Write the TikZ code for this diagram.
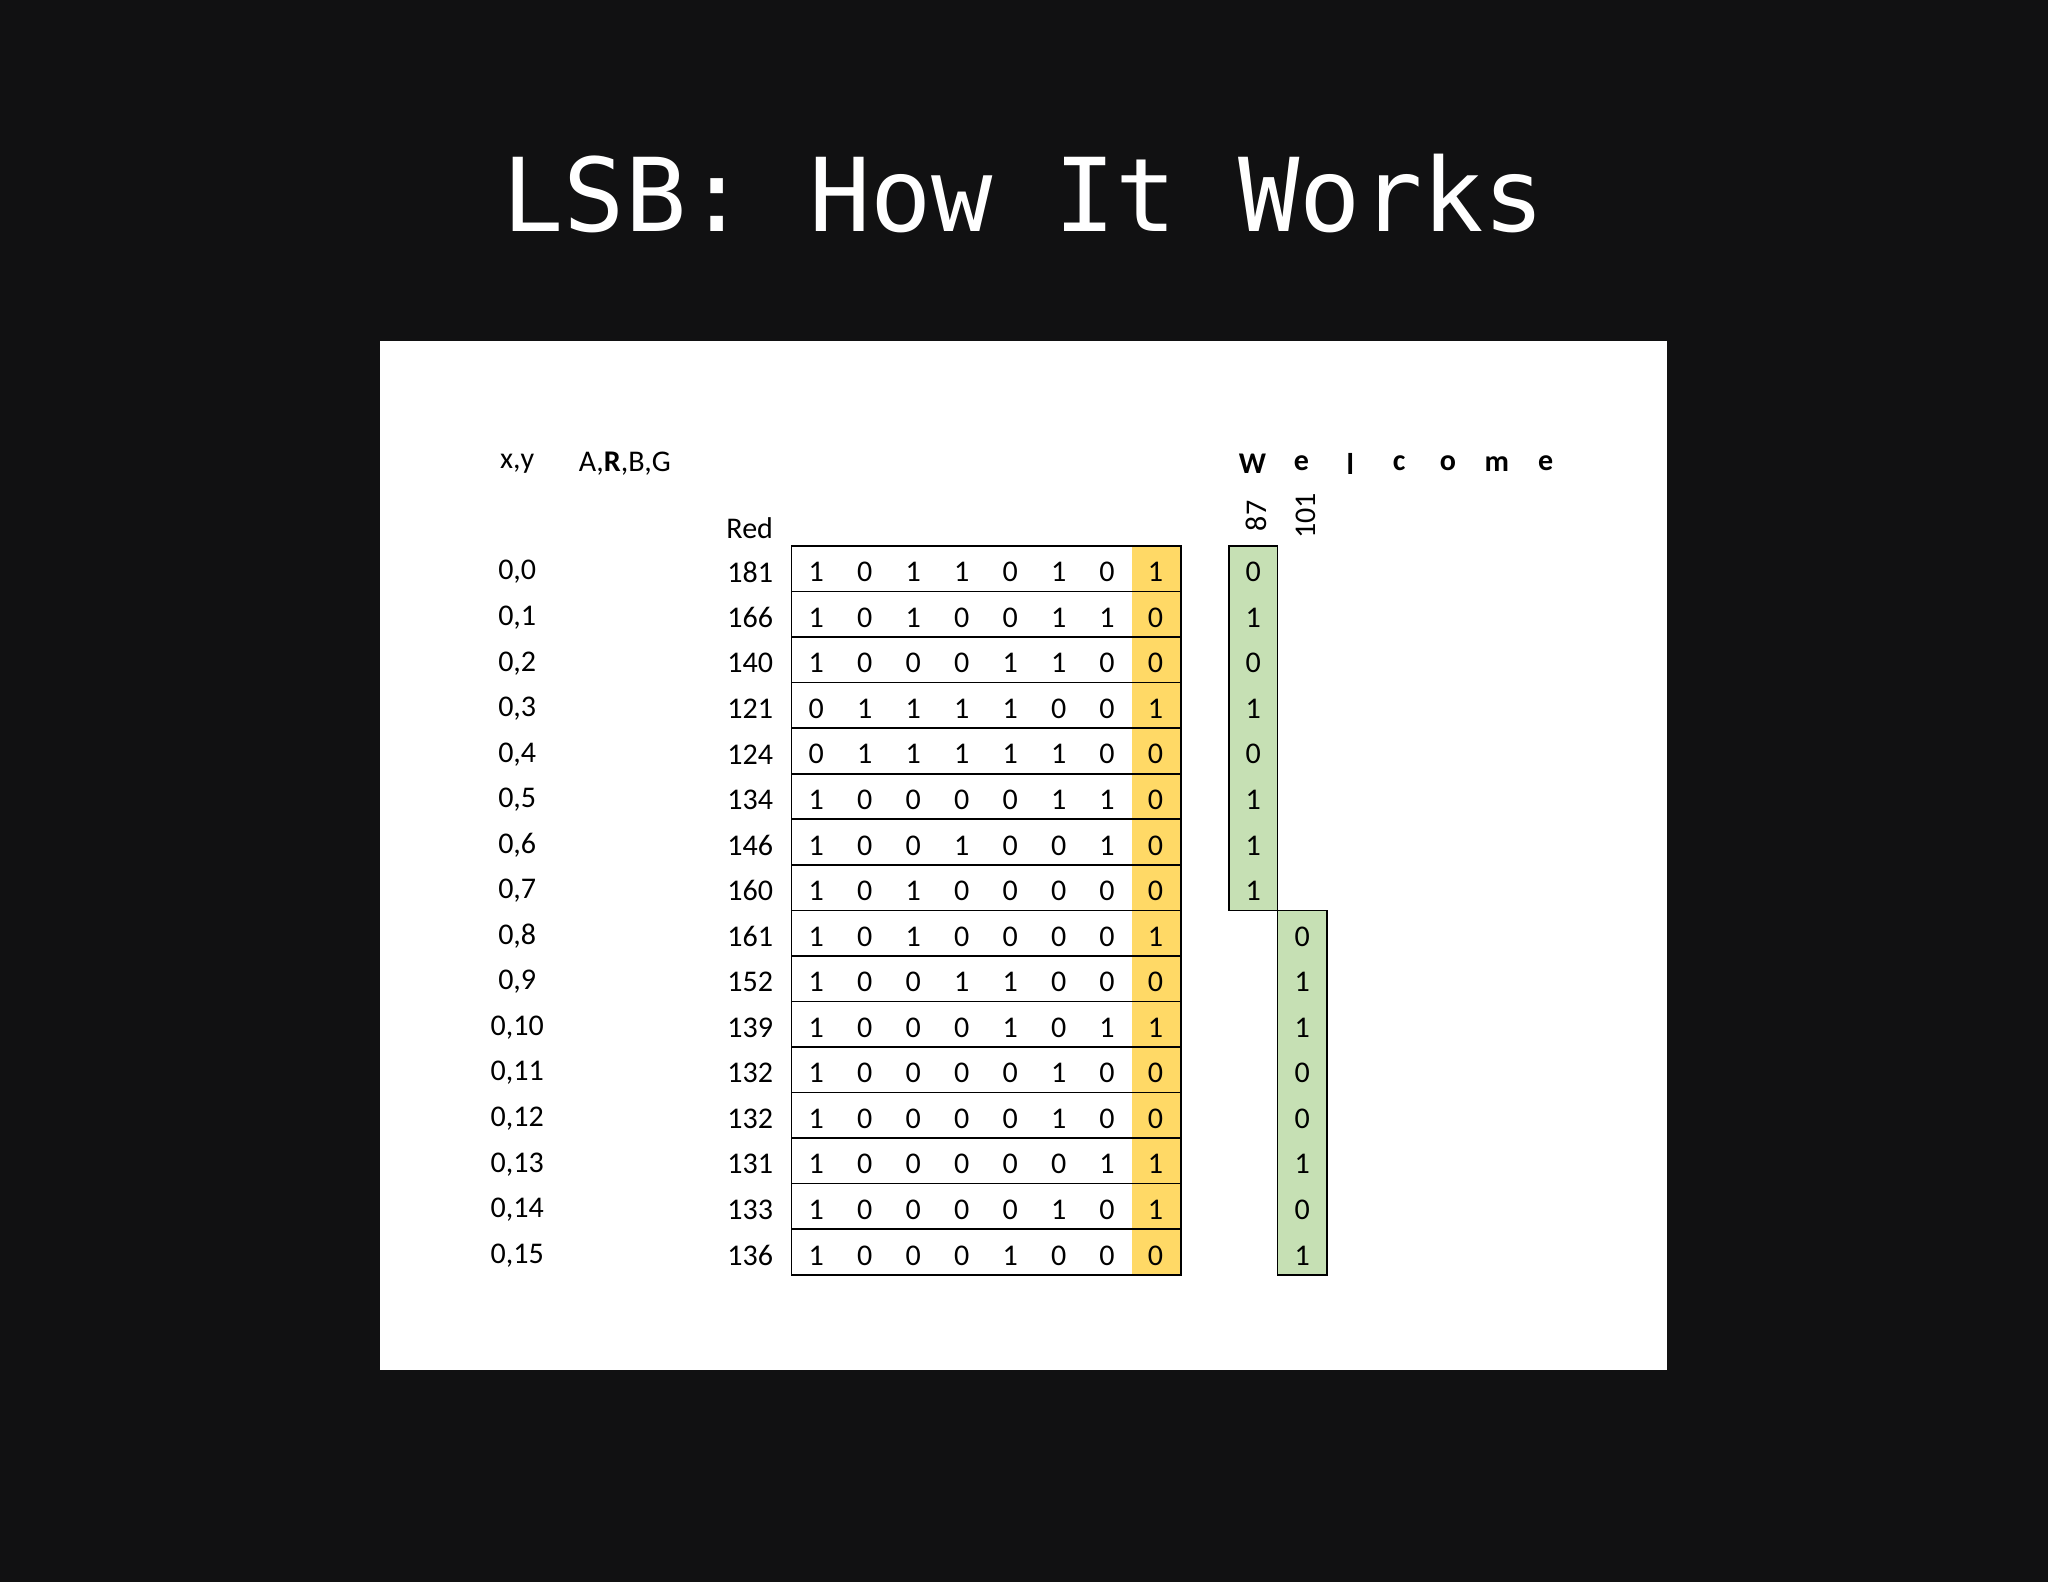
\documentclass[tikz,border=0pt]{standalone}
\usepackage{fontspec}
\setmainfont{Carlito}
\newfontfamily\titlefont{DejaVu Sans Mono}
\begin{document}
\begin{tikzpicture}[x=1pt,y=-1pt,
  txt/.style={font=\fontsize{23}{26}\selectfont,inner sep=0pt,anchor=center},
  lsb/.style={fill=yellowlsb,draw=none},
  grn/.style={fill=greenbit,draw=black,line width=1.2pt}]
\definecolor{bg}{HTML}{111112}
\definecolor{yellowlsb}{HTML}{FFD966}
\definecolor{greenbit}{HTML}{C6E0B4}
\fill[bg] (0,0) rectangle (1568,1211);
\useasboundingbox (0,0) rectangle (1568,1211);
\fill[white] (291,261) rectangle (1276,1049);
\node[text=white,font=\titlefont\fontsize{78}{80}\selectfont,inner sep=0pt] (title) at (784,148) {LSB: How It Works};
% headers
\node[txt] (hxy) at (396,355) {x,y};
\node[txt,anchor=west] (hargb) at (443,355) {A,\textbf{R},B,G};
\node[txt,anchor=east] (hred) at (592,404) {Red};
\foreach \c [count=\k from 0] in {W,e,l,c,o,m,e}
  \node[txt,font=\fontsize{23}{26}\selectfont\bfseries] (w\k) at (959+37.4*\k,355) {\c};
\node[txt,rotate=90] (n87) at (962,395) {87};
\node[txt,rotate=90] (n101) at (1000,395) {101};
% yellow column
\fill[yellowlsb] (867,418) rectangle (904,976);
% green columns
\draw[grn] (941,418) rectangle (978,697);
\draw[grn] (978,697) rectangle (1016,976);
% rows
\foreach \xy/\v/\bits/\g [count=\i from 0] in {
 0/181/{1,0,1,1,0,1,0,1}/0, 1/166/{1,0,1,0,0,1,1,0}/1, 2/140/{1,0,0,0,1,1,0,0}/0,
 3/121/{0,1,1,1,1,0,0,1}/1, 4/124/{0,1,1,1,1,1,0,0}/0, 5/134/{1,0,0,0,0,1,1,0}/1,
 6/146/{1,0,0,1,0,0,1,0}/1, 7/160/{1,0,1,0,0,0,0,0}/1, 8/161/{1,0,1,0,0,0,0,1}/0,
 9/152/{1,0,0,1,1,0,0,0}/1, 10/139/{1,0,0,0,1,0,1,1}/1, 11/132/{1,0,0,0,0,1,0,0}/0,
 12/132/{1,0,0,0,0,1,0,0}/0, 13/131/{1,0,0,0,0,0,1,1}/1, 14/133/{1,0,0,0,0,1,0,1}/0,
 15/136/{1,0,0,0,1,0,0,0}/1}{
  \pgfmathsetmacro\yy{438+34.875*\i}
  \node[txt] (xy\i) at (396,\yy) {0,\xy};
  \node[txt,anchor=east] (v\i) at (592,\yy) {\v};
  \foreach \b [count=\j from 0] in \bits {
    \node[txt] (b\i-\j) at (625+37.1*\j,\yy) {\b};
  }
  \ifnum\i<8
    \node[txt] (g\i) at (959.5,\yy) {\g};
  \else
    \node[txt] (g\i) at (997,\yy) {\g};
  \fi
}
\foreach \i in {1,...,15}
  \draw[line width=1.2pt] (606,418+34.875*\i) -- (904,418+34.875*\i);
\draw[line width=1.2pt] (606,418) rectangle (904,976);
\end{tikzpicture}
\end{document}
